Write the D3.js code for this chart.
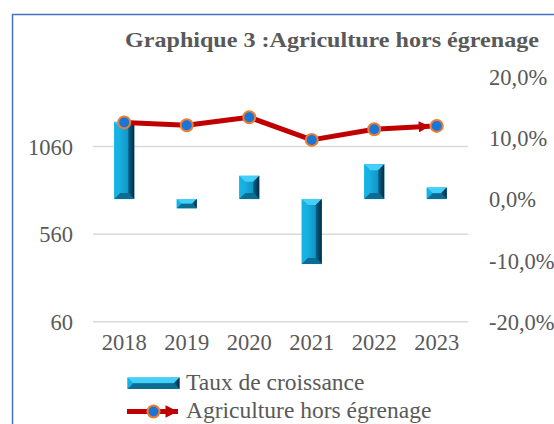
<!DOCTYPE html>
<html>
<head>
<meta charset="utf-8">
<script src="https://cdn.jsdelivr.net/npm/d3@7"></script>
<style>
    body { margin: 0; background: #ffffff; }
    svg { display: block; }
</style>
</head>
<body>
<svg id="chart" width="554" height="424"></svg>
<script>
// data
const years = ["2018", "2019", "2020", "2021", "2022", "2023"]
const croissance = [0.126, -0.015, 0.038, -0.106, 0.057, 0.019]   // Taux de croissance (right axis)
const agriculture = [1198, 1182, 1227, 1098, 1159, 1178]          // Agriculture hors égrenage (left axis)
const leftTicks = [60, 560, 1060]
const rightTicks = [0.2, 0.1, 0, -0.1, -0.2]

const FONT = '"Liberation Serif", "Times New Roman", serif'
const GREY = '#595959'

const svg = d3.select('#chart')

// frame of the excel chart, only top and left edge visible
svg.append('path')
    .attr('d', 'M12.5,424 L12.5,14.5 L554,14.5')
    .attr('fill', 'none')
    .attr('stroke', '#4472C4')
    .attr('stroke-width', 1.5)

svg.append('text')
    .attr('x', 125)
    .attr('y', 47)
    .attr('textLength', 414)
    .attr('lengthAdjust', 'spacingAndGlyphs')
    .style('font-family', FONT)
    .style('fill', GREY)
    .style('font-size', '22px')
    .style('font-weight', 'bold')
    .text('Graphique 3 :Agriculture hors égrenage')

const x = d3.scaleBand()
    .domain(years)
    .range([93, 468])
    .paddingInner(0.68)
    .paddingOuter(0.34)

const yLeft = d3.scaleLinear().domain([60, 1460]).range([321.7, 76.5])
const yRight = d3.scaleLinear().domain([-0.2, 0.2]).range([321.7, 76.5])

// gridlines
svg.append('g')
    .selectAll('line')
    .data(leftTicks)
    .join('line')
    .attr('x1', 93)
    .attr('x2', 468)
    .attr('y1', d => yLeft(d))
    .attr('y2', d => yLeft(d))
    .attr('stroke', '#d9d9d9')
    .attr('stroke-width', 1.5)

function styleAxis(g){
    g.select('.domain').remove()
    g.attr('font-family', null).attr('font-size', null)
    g.selectAll('text')
        .style('font-family', FONT)
        .style('font-size', '22.5px')
        .style('fill', GREY)
}

// left axis
const axisLeft = svg.append('g')
    .attr('transform', 'translate(73,0)')
    .call(d3.axisLeft(yLeft).tickValues(leftTicks).tickSize(0).tickPadding(0).tickFormat(d3.format('d')))
styleAxis(axisLeft)
axisLeft.selectAll('text').attr('dy', '0.34em')

// right axis, labels are left aligned
const axisRight = svg.append('g')
    .attr('transform', 'translate(489,0)')
    .call(d3.axisRight(yRight).tickValues(rightTicks).tickSize(0).tickPadding(0)
        .tickFormat(d => (d * 100).toFixed(1).replace('.', ',') + '%'))
styleAxis(axisRight)
axisRight.selectAll('text').attr('dy', '0.34em')

// bottom axis
const axisBottom = svg.append('g')
    .attr('transform', 'translate(0,334)')
    .call(d3.axisBottom(x).tickSize(0).tickPadding(0))
styleAxis(axisBottom)
axisBottom.selectAll('text').attr('dy', '0.71em')


// beveled bar like the excel 3d bevel
function drawBevelBar(g, x0, y0, w, h){
    let x1 = x0 + w
    let y1 = y0 + h
    let b = Math.min(6, w / 2, h / 2)
    let pts = function(arr){ return arr.map(p => p.join(',')).join(' ') }

    g.append('rect')
        .attr('x', x0).attr('y', y0).attr('width', w).attr('height', h)
        .attr('fill', 'url(#barCenter)')
    // top
    g.append('polygon')
        .attr('points', pts([[x0, y0], [x1, y0], [x1 - b, y0 + b], [x0 + b, y0 + b]]))
        .attr('fill', '#45d0f8')
    // left
    g.append('polygon')
        .attr('points', pts([[x0, y0], [x0 + b, y0 + b], [x0 + b, y1 - b], [x0, y1]]))
        .attr('fill', '#16b2e4')
    // right
    g.append('polygon')
        .attr('points', pts([[x1, y0], [x1, y1], [x1 - b, y1 - b], [x1 - b, y0 + b]]))
        .attr('fill', 'url(#barRight)')
    // bottom
    g.append('polygon')
        .attr('points', pts([[x0, y1], [x0 + b, y1 - b], [x1 - b, y1 - b], [x1, y1]]))
        .attr('fill', '#0b6d93')
}

const defs = svg.append('defs')
const gc = defs.append('linearGradient').attr('id', 'barCenter')
gc.append('stop').attr('offset', '0%').attr('stop-color', '#1dbcec')
gc.append('stop').attr('offset', '100%').attr('stop-color', '#0a86b8')
const gr = defs.append('linearGradient').attr('id', 'barRight')
gr.append('stop').attr('offset', '0%').attr('stop-color', '#0a6189')
gr.append('stop').attr('offset', '100%').attr('stop-color', '#022c42')

function addArrow(id, w, h){
    defs.append('marker')
        .attr('id', id)
        .attr('viewBox', '0 0 10 10')
        .attr('refX', 10)
        .attr('refY', 5)
        .attr('markerWidth', w)
        .attr('markerHeight', h)
        .attr('orient', 'auto')
        .attr('markerUnits', 'strokeWidth')
        .append('path')
        .attr('d', 'M0,0 L10,5 L0,10 Z')
        .attr('fill', '#c00000')
}
addArrow('arrow', 2.4, 2.2)
addArrow('arrowBig', 3.3, 2.5)

// bars
const bars = svg.append('g')
croissance.forEach(function(v, i){
    let top = Math.min(yRight(v), yRight(0))
    let h = Math.abs(yRight(v) - yRight(0))
    drawBevelBar(bars, x(years[i]), top, x.bandwidth(), h)
})

// line with arrow on the end, stopping just before the last marker
const pts = agriculture.map((v, i) => [x(years[i]) + x.bandwidth() / 2, yLeft(v)])
let last = pts[pts.length - 1]
let prev = pts[pts.length - 2]
let dx = last[0] - prev[0], dy = last[1] - prev[1]
let len = Math.sqrt(dx * dx + dy * dy)
let linePts = pts.slice(0, -1).concat([[last[0] - dx / len * 7, last[1] - dy / len * 7]])

svg.append('path')
    .attr('d', d3.line()(linePts))
    .attr('fill', 'none')
    .attr('stroke', '#c00000')
    .attr('stroke-width', 5)
    .attr('stroke-linejoin', 'round')
    .attr('marker-end', 'url(#arrow)')

svg.append('g')
    .selectAll('circle')
    .data(pts)
    .join('circle')
    .attr('cx', d => d[0])
    .attr('cy', d => d[1])
    .attr('r', 6)
    .attr('fill', '#1b75d6')
    .attr('stroke', '#ed7d31')
    .attr('stroke-width', 2)

// legend
const legend = svg.append('g')
drawBevelBar(legend, 127.5, 377.5, 52, 11.5)
legend.append('text')
    .attr('x', 186)
    .attr('y', 390)
    .style('font-family', FONT)
    .style('fill', GREY)
    .style('font-size', '23.5px')
    .text('Taux de croissance')

legend.append('line')
    .attr('x1', 127).attr('x2', 178)
    .attr('y1', 411.5).attr('y2', 411.5)
    .attr('stroke', '#c00000')
    .attr('stroke-width', 5)
    .attr('marker-end', 'url(#arrowBig)')
legend.append('circle')
    .attr('cx', 153.5)
    .attr('cy', 411.5)
    .attr('r', 6)
    .attr('fill', '#1b75d6')
    .attr('stroke', '#ed7d31')
    .attr('stroke-width', 2)
legend.append('text')
    .attr('x', 186)
    .attr('y', 418)
    .style('font-family', FONT)
    .style('fill', GREY)
    .style('font-size', '23.5px')
    .text('Agriculture hors égrenage')
</script>
</body>
</html>
